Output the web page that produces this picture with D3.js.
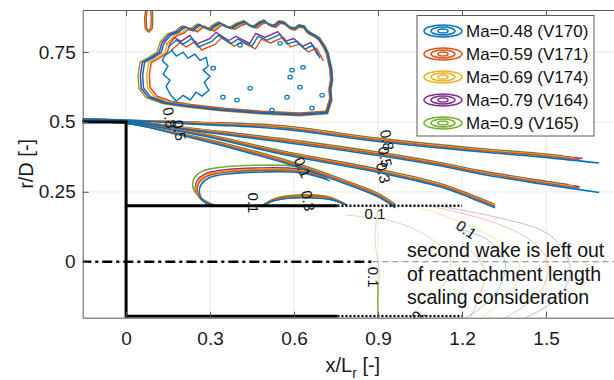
<!DOCTYPE html>
<html>
<head>
<meta charset="utf-8">
<script src="https://cdn.jsdelivr.net/npm/d3@7"></script>
<style>
  body { margin: 0; background: #fff; }
  svg { display: block; font-family: "Liberation Sans", Arial, sans-serif; }
</style>
</head>
<body>
<div id="chart"></div>
<script>
// series
const seriesNames = ["Ma=0.48 (V170)", "Ma=0.59 (V171)", "Ma=0.69 (V174)", "Ma=0.79 (V164)", "Ma=0.9 (V165)"];
const seriesColors = ["#0072BD", "#D95319", "#EDB120", "#7E2F8E", "#77AC30"];

const xTicks = [0, 0.3, 0.6, 0.9, 1.2, 1.5];
const yTicks = [0, 0.25, 0.5, 0.75];

// shear layer contour levels (x/Lr , r/D)
const shear1 = [[-0.157, 0.510], [0, 0.506], [0.264, 0.495], [0.55, 0.481], [0.907, 0.435], [1.264, 0.399], [1.479, 0.381], [1.70, 0.358]];
const shear2 = [[-0.157, 0.506], [0, 0.503], [0.264, 0.470], [0.55, 0.435], [0.907, 0.385], [1.121, 0.349], [1.264, 0.320], [1.479, 0.285], [1.70, 0.252]];
const shear3 = [[-0.157, 0.503], [0, 0.499], [0.264, 0.456], [0.55, 0.392], [0.907, 0.324], [1.121, 0.274], [1.229, 0.235], [1.318, 0.199]];
const shear4 = [[-0.157, 0.500], [0, 0.495], [0.193, 0.456], [0.371, 0.413], [0.586, 0.353], [0.764, 0.292], [0.907, 0.235], [0.961, 0.199]];
const shearSpread = [-0.006, -0.001, 0.002, 0.004, 0.006];
const shearEnd1 = [1.69, 1.62, 1.60, 1.63, 1.56];
const shearEnd2 = [1.69, 1.62, 1.60, 1.62, 1.58];

// outer recirculation blob
const blob = [[0.121, 0.574], [0.082, 0.588], [0.057, 0.620], [0.054, 0.667], [0.061, 0.713], [0.093, 0.731], [0.121, 0.749],
  [0.132, 0.785], [0.157, 0.813], [0.186, 0.824], [0.200, 0.836], [0.211, 0.842], [0.236, 0.828], [0.250, 0.840], [0.264, 0.849],
  [0.282, 0.838], [0.300, 0.831], [0.318, 0.846], [0.336, 0.856], [0.357, 0.842], [0.379, 0.838], [0.400, 0.851], [0.425, 0.860],
  [0.443, 0.846], [0.461, 0.842], [0.479, 0.856], [0.496, 0.863], [0.514, 0.849], [0.532, 0.845], [0.550, 0.860], [0.568, 0.856],
  [0.586, 0.840], [0.604, 0.835], [0.621, 0.846], [0.639, 0.842], [0.650, 0.826], [0.664, 0.817], [0.680, 0.808], [0.693, 0.799],
  [0.705, 0.781], [0.714, 0.767], [0.724, 0.745], [0.729, 0.720], [0.736, 0.690], [0.739, 0.649], [0.733, 0.615],
  [0.736, 0.578], [0.721, 0.531], [0.621, 0.524], [0.479, 0.531], [0.336, 0.542], [0.211, 0.556], [0.139, 0.567]];
// per series: dx, scale x, scale y
const blobFit = [[0, 0.985, 0.98], [0.010, 0.945, 0.955], [0.006, 0.96, 0.97], [-0.003, 1.0, 0.995], [-0.006, 1.015, 1.01]];
const blobBand = [[0.150, 0.767], [0.179, 0.792], [0.204, 0.778], [0.236, 0.799], [0.257, 0.767], [0.307, 0.788], [0.329, 0.810],
  [0.375, 0.781], [0.400, 0.796], [0.450, 0.771], [0.471, 0.806], [0.504, 0.792], [0.550, 0.813], [0.575, 0.778], [0.607, 0.788],
  [0.639, 0.760], [0.668, 0.774], [0.693, 0.728]];
const blobBandShift = [[0, 0], [0.012, -0.010], null, [-0.008, 0.010], null];
const blueInner = [[0.139, 0.738], [0.164, 0.756], [0.179, 0.735], [0.204, 0.749], [0.221, 0.728], [0.246, 0.742], [0.264, 0.720],
  [0.286, 0.731], [0.293, 0.699], [0.275, 0.685], [0.300, 0.663], [0.279, 0.642], [0.296, 0.613], [0.271, 0.592], [0.250, 0.606],
  [0.229, 0.578], [0.204, 0.595], [0.179, 0.574], [0.157, 0.599], [0.143, 0.627], [0.157, 0.649], [0.132, 0.670], [0.150, 0.699],
  [0.129, 0.720]];
const blueDots = [[0.311, 0.692], [0.346, 0.588], [0.396, 0.578], [0.443, 0.620], [0.575, 0.588], [0.593, 0.685], [0.621, 0.624],
  [0.632, 0.695], [0.586, 0.660], [0.407, 0.774], [0.550, 0.781], [0.700, 0.595], [0.664, 0.549], [0.521, 0.542]];
const topBlob = [[0.072, 0.905], [0.068, 0.870], [0.070, 0.835], [0.080, 0.822], [0.090, 0.835], [0.092, 0.870], [0.089, 0.905]];

// inner bubble above the wall and small lens
const bubble = [[0.321, 0.199], [0.271, 0.224], [0.254, 0.256], [0.261, 0.288], [0.289, 0.310], [0.354, 0.324], [0.479, 0.331], [0.621, 0.327], [0.72, 0.300]];
const bubbleShift = [[0.008, -0.010], [0, -0.004], [-0.004, 0], [-0.006, 0.004], [-0.016, 0.014]];
const lens = [[0.486, 0.200], [0.532, 0.224], [0.621, 0.236], [0.729, 0.228], [0.789, 0.202]];
const lensHeight = [0.8, 1.0, 0.9, 0.85, 1.1];

// faint second wake contours
const wake = [
  { s: 3, pts: [[1.121, 0.199], [1.336, 0.156], [1.496, 0.106], [1.568, 0.035], [1.586, -0.048], [1.532, -0.137], [1.425, -0.201]] },
  { s: 1, pts: [[1.086, 0.199], [1.300, 0.145], [1.443, 0.078], [1.507, -0.001], [1.479, -0.108], [1.354, -0.201]] },
  { s: 0, pts: [[1.175, 0.120], [1.293, 0.078], [1.354, -0.001], [1.329, -0.101], [1.257, -0.172], [1.211, -0.201]] },
  { s: 2, pts: [[1.032, 0.199], [1.229, 0.128], [1.379, 0.035], [1.407, -0.051], [1.336, -0.144], [1.271, -0.201]] },
  { s: 4, pts: [[0.782, 0.167], [0.961, 0.142], [1.086, 0.085], [1.157, 0.013], [1.139, -0.076], [1.050, -0.155], [1.014, -0.201]] },
  { s: 1, pts: [[1.229, 0.042], [1.282, -0.029], [1.264, -0.118], [1.229, -0.201]] },
  { s: 4, pts: [[0.900, 0.188], [0.889, 0.078], [0.904, -0.029], [0.900, -0.137], [0.900, -0.201]] }
];
const wakeGreen = [[0.900, -0.073], [0.899, -0.140], [0.900, -0.201]];

// contour labels
const contourLabels = [
  ["0.8", 0.155, 0.515, 80], ["0.5", 0.190, 0.470, 80], ["0.1", 0.630, 0.337, 65],
  ["0.1", 0.455, 0.210, 90], ["0.3", 0.650, 0.218, 80],
  ["0.8", 0.932, 0.435, 78], ["0.5", 0.925, 0.375, 78], ["0.3", 0.918, 0.318, 78],
  ["0.1", 0.889, 0.170, 0], ["0.1", 1.215, 0.115, 35], ["0.1", 0.882, -0.055, 90], ["0.", 1.045, -0.190, -40]
];

const annotation = ["second wake is left out", "of reattachment length", "scaling consideration"];

// ---------------------------------------------------------------
const width = 614, height = 380;
const x = d3.scaleLinear([-0.155, 1.775], [82.7, 623]);
const y = d3.scaleLinear([-0.2, 0.9], [317.7, 10]);

const svg = d3.select("#chart").append("svg")
  .attr("width", width)
  .attr("height", height)
  .attr("viewBox", [0, 0, width, height]);

svg.append("defs").append("clipPath").attr("id", "plot")
  .append("rect")
  .attr("x", x.range()[0]).attr("y", y.range()[1])
  .attr("width", x.range()[1] - x.range()[0]).attr("height", y.range()[0] - y.range()[1]);

// grid
const grid = svg.append("g").attr("stroke", "#e4e4e4").attr("stroke-width", 0.8);
grid.selectAll(".gx").data(xTicks).join("line")
  .attr("x1", d => x(d)).attr("x2", d => x(d))
  .attr("y1", y.range()[0]).attr("y2", y.range()[1]);
grid.selectAll(".gy").data(yTicks).join("line")
  .attr("y1", d => y(d)).attr("y2", d => y(d))
  .attr("x1", x.range()[0]).attr("x2", x.range()[1]);

const smooth = d3.line().x(d => x(d[0])).y(d => y(d[1])).curve(d3.curveCatmullRom.alpha(0.5));
const jagged = d3.line().x(d => x(d[0])).y(d => y(d[1])).curve(d3.curveLinearClosed);
const straight = d3.line().x(d => x(d[0])).y(d => y(d[1]));

function clipAt(pts, xEnd) {
  const out = [];
  for (let i = 0; i < pts.length; i++) {
    if (pts[i][0] <= xEnd) { out.push(pts[i]); continue; }
    const a = pts[i - 1], b = pts[i], t = (xEnd - a[0]) / (b[0] - a[0]);
    out.push([xEnd, a[1] + t * (b[1] - a[1])]);
    break;
  }
  return out;
}

const plotG = svg.append("g").attr("clip-path", "url(#plot)");

// faint second wake
const wakeG = plotG.append("g").attr("fill", "none").attr("stroke-width", 1);
wake.forEach(w => {
  wakeG.append("path").attr("d", smooth(w.pts))
    .attr("stroke", seriesColors[w.s]).attr("stroke-opacity", 0.35);
});
wakeG.append("path").attr("d", smooth(wakeGreen))
  .attr("stroke", seriesColors[4]).attr("stroke-width", 1.3);

// gray dashed centreline continuation
plotG.append("line")
  .attr("x1", x(0.88)).attr("x2", x(1.775)).attr("y1", y(0)).attr("y2", y(0))
  .attr("stroke", "#8a8a8a").attr("stroke-width", 1.2).attr("stroke-dasharray", "6,4");

// contours per series
const cont = plotG.append("g").attr("fill", "none").attr("stroke-width", 1.6).attr("stroke-linejoin", "round");
const order = [4, 3, 2, 1, 0];
order.forEach(i => {
  const c = seriesColors[i];
  const [dx, sx, sy] = blobFit[i];
  const b = blob.map(d => [0.4 + (d[0] - 0.4) * sx + dx, 0.69 + (d[1] - 0.69) * sy]);
  cont.append("path").attr("d", jagged(b)).attr("stroke", c).attr("stroke-width", 1.5);

  if (blobBandShift[i]) {
    const [bdx, bdy] = blobBandShift[i];
    const band = blobBand.map(d => [d[0] + bdx, d[1] + bdy]);
    cont.append("path").attr("d", straight(band)).attr("stroke", c).attr("stroke-width", 1.4);
  }

  if (i !== 0) {
    const tb = topBlob.map(d => [d[0] + (i - 2) * 0.002, d[1]]);
    cont.append("path").attr("d", jagged(tb)).attr("stroke", c).attr("stroke-width", 1.3);
  }

  const sp = shearSpread[i];
  const shift = pts => pts.map(d => [d[0], d[1] + sp * Math.max(0, Math.min(1, d[0] / 0.4))]);
  cont.append("path").attr("d", smooth(clipAt(shift(shear1), shearEnd1[i]))).attr("stroke", c);
  cont.append("path").attr("d", smooth(clipAt(shift(shear2), shearEnd2[i]))).attr("stroke", c);
  cont.append("path").attr("d", smooth(shift(shear3))).attr("stroke", c);
  cont.append("path").attr("d", smooth(shift(shear4))).attr("stroke", c);

  const [bx, by] = bubbleShift[i];
  cont.append("path").attr("d", smooth(bubble.map((d, k) => k === 0 ? d : [d[0] + bx, d[1] + by]))).attr("stroke", c);

  const l = lens.map(d => [d[0], 0.2 + (d[1] - 0.2) * lensHeight[i]]);
  cont.append("path").attr("d", smooth(l)).attr("stroke", c);
});

// blue extra detail inside the blob
cont.append("path").attr("d", jagged(blueInner)).attr("stroke", seriesColors[0]).attr("stroke-width", 1.4);
cont.selectAll(".dot").data(blueDots).join("ellipse")
  .attr("cx", d => x(d[0])).attr("cy", d => y(d[1]))
  .attr("rx", 2.2).attr("ry", 1.8)
  .attr("stroke", seriesColors[0]).attr("stroke-width", 1.2);

// black geometry lines
const geo = plotG.append("g").attr("fill", "none").attr("stroke", "#000");
geo.append("path").attr("d", straight([[-0.16, 0.5], [0, 0.5], [0, -0.2]])).attr("stroke-width", 3);
geo.append("path").attr("d", straight([[0, 0.2], [0.755, 0.2]])).attr("stroke-width", 3);
geo.append("path").attr("d", straight([[0, -0.195], [0.755, -0.195]])).attr("stroke-width", 3);
geo.append("path").attr("d", straight([[0.755, 0.2], [1.2, 0.2]])).attr("stroke-width", 2.5).attr("stroke-dasharray", "2,2");
geo.append("path").attr("d", straight([[0.755, -0.195], [1.2, -0.195]])).attr("stroke-width", 2.5).attr("stroke-dasharray", "2,2");
geo.append("path").attr("d", straight([[-0.16, 0], [0.88, 0]])).attr("stroke-width", 2.5).attr("stroke-dasharray", "10,4,3,4");

// contour labels
plotG.append("g").selectAll("text").data(contourLabels).join("text")
  .attr("transform", d => `translate(${x(d[1])},${y(d[2])}) rotate(${d[3]})`)
  .attr("text-anchor", "middle").attr("dy", "0.35em")
  .attr("font-size", 15).attr("fill", "#111")
  .text(d => d[0]);

// axes
const axisColor = "#5a5a5a";
const axBottom = svg.append("g").attr("transform", `translate(0,${y.range()[0]})`)
  .call(d3.axisBottom(x).tickValues(xTicks).tickSize(-6).tickSizeOuter(0).tickPadding(14).tickFormat(d3.format("")));
const axLeft = svg.append("g").attr("transform", `translate(${x.range()[0]},0)`)
  .call(d3.axisLeft(y).tickValues(yTicks).tickSize(-6).tickSizeOuter(0).tickPadding(7).tickFormat(d3.format("")));
const axTop = svg.append("g").attr("transform", `translate(0,${y.range()[1]})`)
  .call(d3.axisTop(x).tickValues(xTicks).tickSize(-6).tickSizeOuter(0).tickFormat(""));
[axBottom, axLeft, axTop].forEach(g => {
  g.selectAll(".domain").attr("stroke", axisColor);
  g.selectAll(".tick line").attr("stroke", axisColor);
  g.selectAll("text").attr("font-size", 19).attr("fill", "#1a1a1a").attr("font-family", "Liberation Sans, Arial, sans-serif");
});

svg.append("text")
  .attr("x", (x.range()[0] + x.range()[1]) / 2).attr("y", 372)
  .attr("text-anchor", "middle").attr("font-size", 20).attr("fill", "#1a1a1a")
  .call(t => {
    t.append("tspan").text("x/L");
    t.append("tspan").attr("dy", 6).attr("font-size", 14).text("r");
    t.append("tspan").attr("dy", -6).text(" [-]");
  });

svg.append("text")
  .attr("transform", `translate(33,${(y.range()[0] + y.range()[1]) / 2}) rotate(-90)`)
  .attr("text-anchor", "middle").attr("font-size", 20).attr("fill", "#1a1a1a")
  .text("r/D [-]");

// annotation
svg.append("g").selectAll("text").data(annotation).join("text")
  .attr("x", 407).attr("y", (d, i) => 257 + i * 23.5)
  .attr("font-size", 19.5).attr("fill", "#111")
  .text(d => d);

// legend
const legend = svg.append("g");
legend.append("rect")
  .attr("x", 417).attr("y", 15.5).attr("width", 177).attr("height", 120.5)
  .attr("fill", "#fff").attr("stroke", axisColor).attr("stroke-width", 1);
const item = legend.selectAll(".item").data(seriesNames).join("g")
  .attr("transform", (d, i) => `translate(443,${31 + i * 23})`);
[[19, 6], [12, 4], [5, 2]].forEach(([rx, ry]) => {
  item.append("ellipse").attr("rx", rx).attr("ry", ry)
    .attr("fill", "none").attr("stroke-width", 1.5)
    .attr("stroke", (d, i) => seriesColors[i]);
});
item.append("text").attr("x", 23).attr("dy", "0.36em")
  .attr("font-size", 17).attr("fill", "#111")
  .text(d => d);
</script>
</body>
</html>
